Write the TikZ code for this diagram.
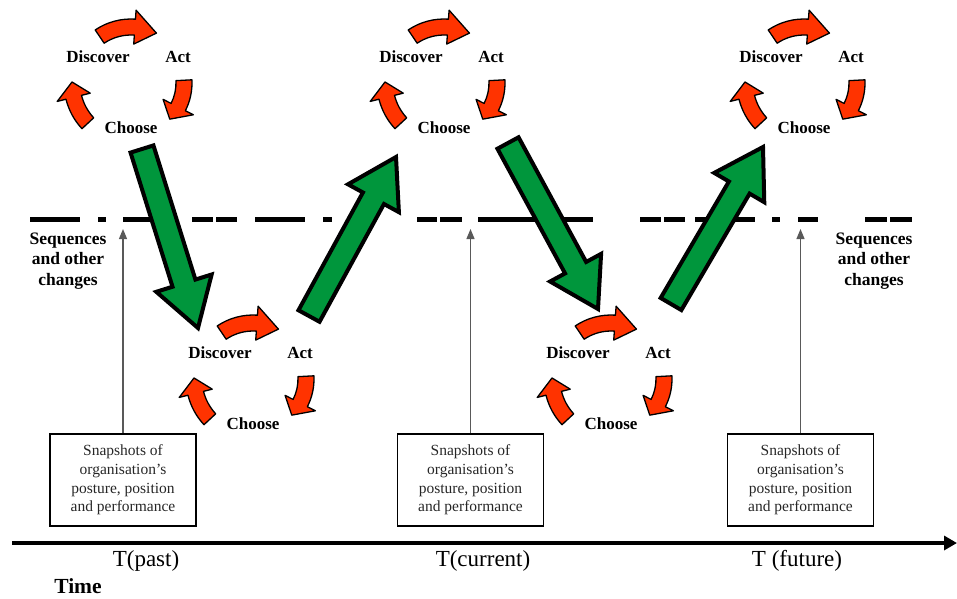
\documentclass[tikz,border=0pt]{standalone}
\usepackage{fontspec}
\setmainfont{Liberation Serif}
\usetikzlibrary{calc,arrows.meta}

\definecolor{cyclered}{RGB}{255,51,0}
\definecolor{arrowgreen}{RGB}{0,150,60}

% curved block arrow on a circle: start angle, head base angle, tip angle, radius
\newcommand\cyclearrow[4]{%
  \filldraw[redarrow] ({#1}:{#4+8}) arc[start angle={#1}, end angle={#2}, radius={#4+8}]
    -- ({#2}:{#4+17}) -- ({#3}:{#4}) -- ({#2}:{#4-17}) -- ({#2}:{#4-8})
    arc[start angle={#2}, end angle={#1}, radius={#4-8}] -- cycle;}

% straight block arrow from one named point to another
\newcommand\bigarrow[2]{%
  \coordinate (hb) at ($(#2)!47pt!(#1)$);
  \filldraw[greenarrow] ($(#1)!12pt!90:(#2)$) -- ($(hb)!12pt!90:(#2)$)
    -- ($(hb)!29pt!90:(#2)$) -- (#2) -- ($(hb)!29pt!-90:(#2)$)
    -- ($(hb)!12pt!-90:(#2)$) -- ($(#1)!12pt!-90:(#2)$) -- cycle;}

\tikzset{
  redarrow/.style={fill=cyclered, draw=black, line width=1.3pt, line join=round},
  greenarrow/.style={fill=arrowgreen, draw=black, line width=4pt, line join=miter},
  steplabel/.style={font=\bfseries\fontsize{17}{20}\selectfont, inner sep=0pt},
  sidenote/.style={font=\bfseries\fontsize{17.5}{20.5}\selectfont, align=center, inner sep=0pt},
  snapbox/.style={draw=black, line width=1.3pt, minimum width=146pt, minimum height=92pt,
    align=center, font=\fontsize{15.5}{18.7}\selectfont, inner sep=0pt, text=black!85},
  pointer/.style={draw=black!65, line width=1.2pt, -{Triangle[length=10pt,width=8pt]}},
  dashseg/.style={line width=5pt},
  timeaxis/.style={line width=4pt, -{Triangle[length=13pt,width=14pt]}},
  timelabel/.style={font=\fontsize{23}{26}\selectfont, inner sep=0pt},
  pics/cycle/.style={code={
    \begin{scope}[yscale=-1]
      \cyclearrow{124}{86}{63}{56}
      \cyclearrow{3}{-27}{-43}{53}
      \cyclearrow{-137}{-166}{-181}{59}
    \end{scope}
    \node[steplabel] (-d) at (-33,-26) {Discover};
    \node[steplabel] (-a) at (47,-26) {Act};
    \node[steplabel] (-c) at (0,45) {Choose};
  }}
}

\begin{document}
\begin{tikzpicture}[x=1pt,y=-1pt]
\useasboundingbox (0,0) rectangle (957,598);

% dash-dot line of sequences and other changes
\foreach \a/\b in {30/80, 98/106, 123/165, 192/213, 216/237, 255/305, 323/332,
                   417/437, 440/462, 478/593, 640/661, 664/685, 695/755, 772/780,
                   798/818, 865/887, 890/912}
  \draw[dashseg] (\a,219) -- (\b,219);

% discover-act-choose cycles
\pic (top1) at (131,83) {cycle};
\pic (top2) at (444,83) {cycle};
\pic (top3) at (804,83) {cycle};
\pic (low1) at (253,379) {cycle};
\pic (low2) at (611,379) {cycle};

% transitions between cycles
\coordinate (g1s) at (142,149); \coordinate (g1e) at (198,328);
\coordinate (g2s) at (309,316); \coordinate (g2e) at (396,157);
\coordinate (g3s) at (508,143); \coordinate (g3e) at (598,309);
\coordinate (g4s) at (671,304); \coordinate (g4e) at (763,147);
\bigarrow{g1s}{g1e}
\bigarrow{g2s}{g2e}
\bigarrow{g3s}{g3e}
\bigarrow{g4s}{g4e}

% side notes
\node[sidenote] (seqL) at (68,261) {Sequences\\and other\\changes};
\node[sidenote] (seqR) at (874,261) {Sequences\\and other\\changes};

% snapshots
\node[snapbox] (snap1) at (123,480) {Snapshots of\\organisation’s\\posture, position\\and performance};
\node[snapbox] (snap2) at (470.5,480) {Snapshots of\\organisation’s\\posture, position\\and performance};
\node[snapbox] (snap3) at (800.5,480) {Snapshots of\\organisation’s\\posture, position\\and performance};
\coordinate (p1) at (123,229);
\coordinate (p2) at (470.5,229);
\coordinate (p3) at (800.5,229);
\draw[pointer] (snap1.north) -- (p1);
\draw[pointer] (snap2.north) -- (p2);
\draw[pointer] (snap3.north) -- (p3);

% time axis
\coordinate (axL) at (12,543);
\coordinate (axR) at (957,543);
\draw[timeaxis] (axL) -- (axR);
\node[timelabel] (tpast) at (146,561) {T(past)};
\node[timelabel] (tcur) at (483,561) {T(current)};
\node[timelabel] (tfut) at (797,561) {T (future)};
\node[font=\bfseries\fontsize{21.5}{24}\selectfont, inner sep=0pt] (time) at (78,586) {Time};
\end{tikzpicture}
\end{document}
